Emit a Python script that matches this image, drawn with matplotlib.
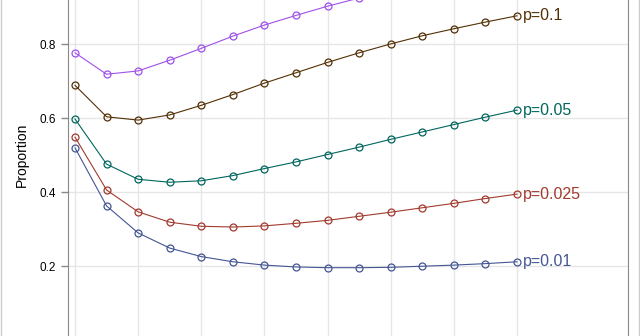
import numpy as np
import matplotlib.pyplot as plt
from matplotlib.lines import Line2D

plt.rcParams['font.family'] = ['Liberation Sans', 'DejaVu Sans']

# шаги (15 точек), сетка по чётным
x = np.arange(15)

p01 = [0.520, 0.363, 0.290, 0.249, 0.226, 0.212, 0.203, 0.198, 0.196, 0.196,
       0.197, 0.200, 0.203, 0.207, 0.212]
p025 = [0.549, 0.406, 0.347, 0.319, 0.308, 0.306, 0.309, 0.316, 0.324, 0.335,
        0.346, 0.358, 0.370, 0.383, 0.395]
p05 = [0.598, 0.476, 0.435, 0.427, 0.431, 0.445, 0.464, 0.482, 0.502, 0.522,
       0.543, 0.563, 0.583, 0.603, 0.622]
p1 = [0.689, 0.604, 0.595, 0.609, 0.635, 0.664, 0.695, 0.723, 0.751, 0.777,
      0.801, 0.823, 0.842, 0.860, 0.877]
p2 = [0.777, 0.719, 0.728, 0.757, 0.789, 0.822, 0.852, 0.878, 0.903, 0.925,
      0.945, 0.962, 0.976, 0.987, 0.995]

series = [p01, p025, p05, p1, p2]
labels = ['p=0.01', 'p=0.025', 'p=0.05', 'p=0.1', 'p=0.2']
colors = ['#445694', '#A23A2E', '#01665E', '#543005', '#A050E8']

fig = plt.figure(figsize=(6.4, 3.36), dpi=100)
ax = fig.add_axes([68 / 640, -0.0345, 560 / 640, 1.1449])

for y, lab, c in zip(series, labels, colors):
    ax.plot(x, y, color=c, lw=0.8, marker='o', ms=5, mfc='none', mew=0.9)
    ax.annotate(lab, (x[-1], y[-1]), xytext=(4, 0), textcoords='offset points',
                color=c, fontsize=11.5, va='center', ha='left')

ax.set_xlim(-0.222, 17.516)
ax.set_ylim(-0.02, 1.02)
ax.set_xticks(np.arange(0, 15, 2))
ax.set_yticks([0.0, 0.2, 0.4, 0.6, 0.8, 1.0])
ax.set_yticklabels(['0.0', '0.2', '0.4', '0.6', '0.8', '1.0'])
ax.grid(True, color='#e6e6e6', lw=1)
ax.set_axisbelow(True)
ax.tick_params(axis='y', labelsize=8.5, color='#888888', length=5, width=1)
ax.tick_params(axis='x', labelbottom=False, length=0)
for s in ax.spines.values():
    s.set_color('#888888')
ax.set_ylabel('Proportion', fontsize=10, labelpad=8)

# рамка графика
fig.add_artist(Line2D([1 / 640, 1 / 640], [0, 1], color='#cccccc', lw=1))
fig.add_artist(Line2D([639 / 640, 639 / 640], [0, 1], color='#cccccc', lw=1))

fig.savefig('out.png', dpi=100, facecolor='white')
